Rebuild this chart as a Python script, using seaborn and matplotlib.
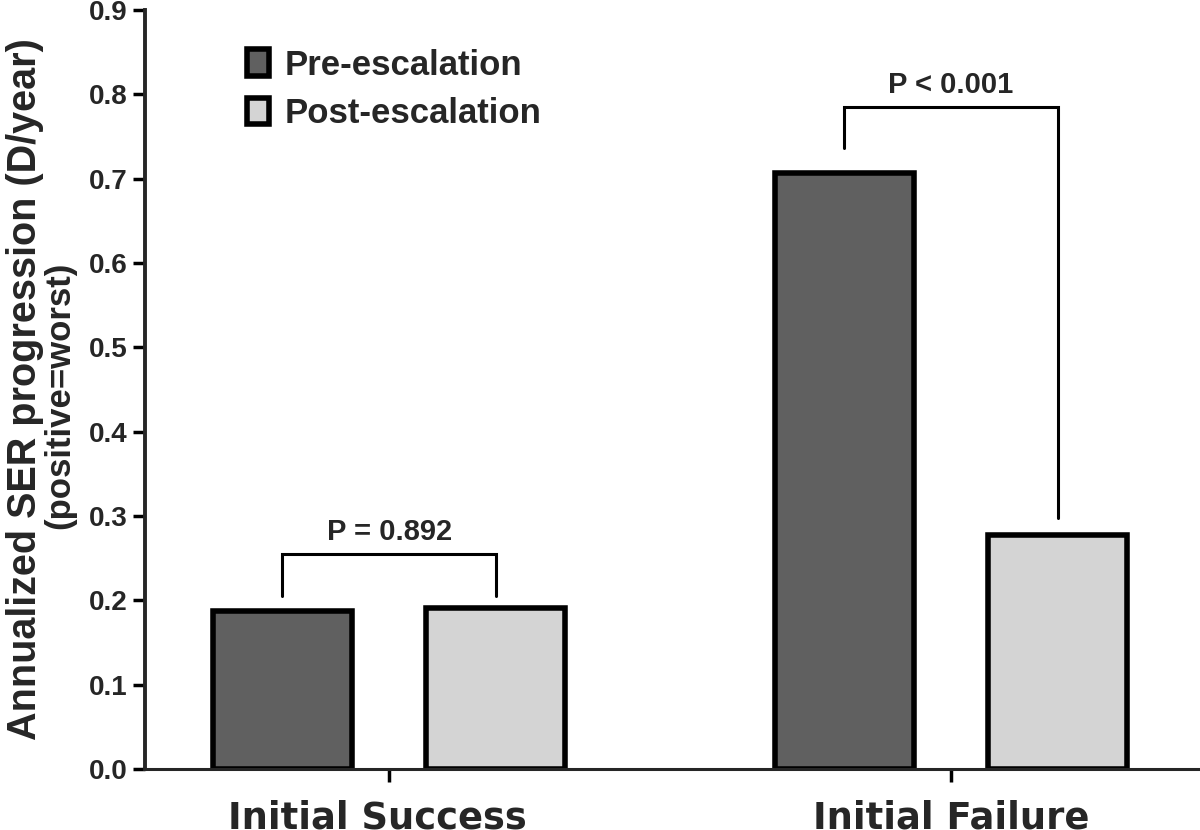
import matplotlib
matplotlib.use("Agg")
import matplotlib.pyplot as plt
import matplotlib.transforms as mtransforms
import seaborn as sns
import pandas as pd

# values
groups = ["Initial Success", "Initial Failure"]
phases = ["Pre-escalation", "Post-escalation"]
pre_vals = [0.187, 0.707]
post_vals = [0.191, 0.278]
p_texts = ["P = 0.892", "P < 0.001"]
bracket_top = [0.255, 0.785]
bracket_legs = [(0.205, 0.205), (0.736, 0.298)]

df = pd.DataFrame({
    "group": groups * 2,
    "phase": [phases[0]] * 2 + [phases[1]] * 2,
    "value": pre_vals + post_vals,
})

sns.set_style("ticks")
plt.rcParams["font.family"] = ["Liberation Sans", "DejaVu Sans"]

fig = plt.figure(figsize=(12, 8.3), dpi=100)
ax = fig.add_axes([0.121, 0.0735, 0.879, 0.9145])

sns.barplot(data=df, x="group", y="value", hue="phase", order=groups,
            hue_order=phases, palette=["#606060", "#d4d4d4"],
            width=0.76, gap=0.35, edgecolor="black", linewidth=4,
            saturation=1, ax=ax)

ax.set_xlim(-0.434, 1.443)
ax.set_ylim(0, 0.9)
ax.set_yticks([i / 10 for i in range(10)])
ax.set_yticklabels([f"{i / 10:.1f}" for i in range(10)], fontsize=20,
                   fontweight="bold")
ax.set_xticklabels(groups, fontsize=26.6, fontweight="bold",
                   family="DejaVu Sans")
ax.tick_params(axis="both", width=2.5, length=9, color="black")
ax.tick_params(axis="x", pad=13)
# first category label sits a little left of its tick in the original
lab = ax.get_xticklabels()[0]
lab.set_transform(lab.get_transform() +
                  mtransforms.ScaledTranslation(-0.12, 0, fig.dpi_scale_trans))
ax.set_xlabel("")
ax.set_ylabel("")
for s in ["top", "right"]:
    ax.spines[s].set_visible(False)
ax.spines["left"].set_linewidth(2.8)
ax.spines["bottom"].set_linewidth(2.2)

fig.text(0.021, 0.531, "Annualized SER progression (D/year)", rotation=90,
         ha="center", va="center", fontsize=28.5, fontweight="bold")
fig.text(0.05, 0.524, "(positive=worst)", rotation=90,
         ha="center", va="center", fontsize=25, fontweight="bold")

# significance brackets
dx = 0.19
for i in range(2):
    x0, x1 = i - dx, i + dx
    y = bracket_top[i]
    ax.plot([x0, x0, x1, x1], [bracket_legs[i][0], y, y, bracket_legs[i][1]],
            color="black", lw=2.2, solid_joinstyle="miter")
    ax.text(i, y + 0.009, p_texts[i], ha="center", va="bottom",
            fontsize=21, fontweight="bold")

leg = ax.legend(loc="upper left", bbox_to_anchor=(0.067, 0.99), frameon=False,
                fontsize=25, handlelength=0.64, handleheight=0.8,
                handletextpad=0.45, labelspacing=0.44)
for t in leg.get_texts():
    t.set_fontweight("bold")
for h in leg.legend_handles:
    h.set_linewidth(4)

fig.savefig("out.png", dpi=100)
